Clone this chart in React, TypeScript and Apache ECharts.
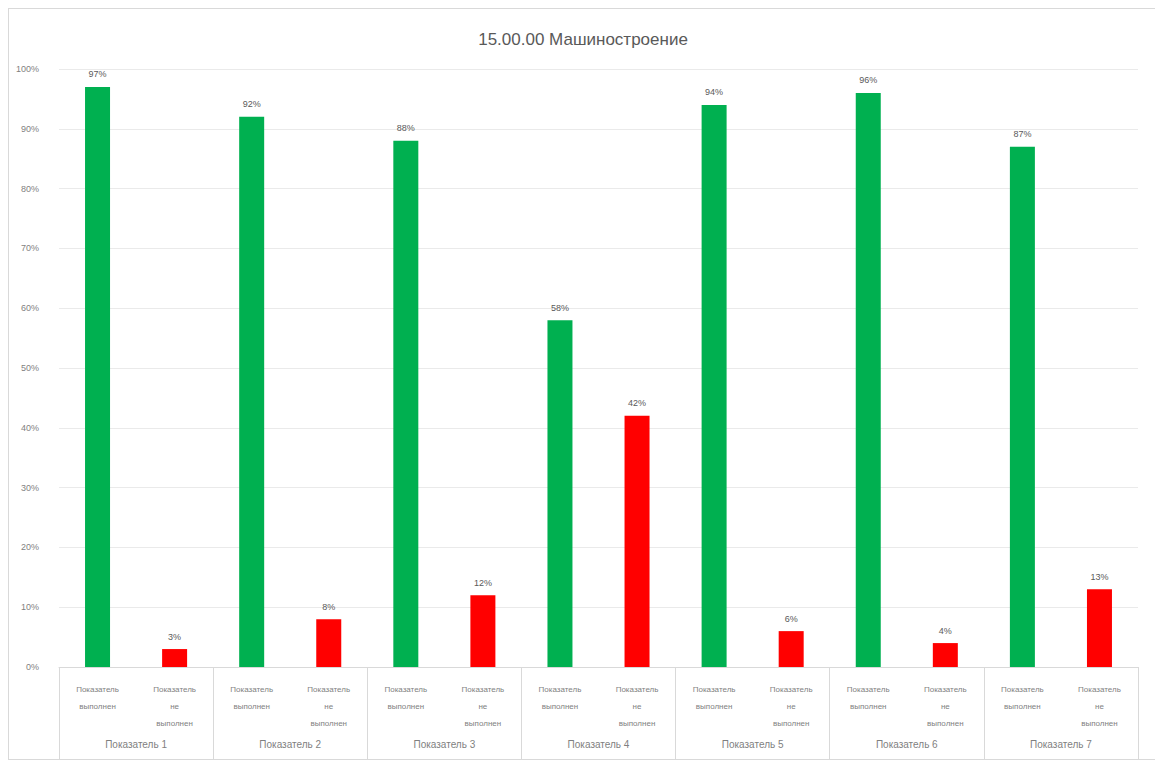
import React, { useEffect, useRef } from "react";
import * as echarts from "echarts";

const title = "15.00.00 Машиностроение";
const groups = ["Показатель 1", "Показатель 2", "Показатель 3", "Показатель 4", "Показатель 5", "Показатель 6", "Показатель 7"];
const subCategories = ["Показатель\nвыполнен", "Показатель\nне\nвыполнен"];
const doneValues = [97, 92, 88, 58, 94, 96, 87];
const notDoneValues = [3, 8, 12, 42, 6, 4, 13];
const colors = ["#00B050", "#FF0000"];

export default function App() {
  const ref = useRef<HTMLDivElement>(null);
  useEffect(() => {
    if (!ref.current) return;
    const chart = echarts.init(ref.current, undefined, { renderer: "svg" });
    const cats: string[] = [];
    const data: any[] = [];
    groups.forEach((_, i) => {
      cats.push(subCategories[0]);
      data.push({ value: doneValues[i], itemStyle: { color: colors[0] } });
      cats.push(subCategories[1]);
      data.push({ value: notDoneValues[i], itemStyle: { color: colors[1] } });
    });
    chart.setOption({
      animation: false,
      backgroundColor: "#ffffff",
      title: {
        text: title,
        left: "center",
        top: 17,
        textStyle: { fontSize: 17, fontWeight: "normal", color: "#595959", fontFamily: "Liberation Sans" },
      },
      grid: { left: 50, right: 19, top: 60, bottom: 92, containLabel: false },
      xAxis: [
        {
          type: "category",
          data: cats,
          axisLine: { show: true, lineStyle: { color: "#D9D9D9" } },
          axisTick: { show: false },
          axisLabel: {
            interval: 0,
            fontSize: 8,
            color: "#7f7f7f",
            lineHeight: 17,
            margin: 14,
            fontFamily: "Liberation Sans",
          },
        },
        {
          type: "category",
          data: groups,
          position: "bottom",
          axisLine: { show: false },
          axisTick: { show: true, length: 92, lineStyle: { color: "#D9D9D9" } },
          axisLabel: { interval: 0, fontSize: 10, color: "#7f7f7f", margin: 72, fontFamily: "Liberation Sans" },
        },
      ],
      yAxis: {
        type: "value",
        min: 0,
        max: 100,
        interval: 10,
        axisLine: { show: false },
        axisTick: { show: false },
        splitLine: { lineStyle: { color: "#EAEAEA" } },
        axisLabel: { formatter: "{value}%", fontSize: 9, color: "#7f7f7f", margin: 20, fontFamily: "Liberation Sans" },
      },
      series: [
        {
          type: "bar",
          xAxisIndex: 0,
          data,
          barWidth: 25,
          label: {
            show: true,
            position: "top",
            formatter: "{c}%",
            fontSize: 9,
            color: "#595959",
            distance: 8,
            fontFamily: "Liberation Sans",
          },
        },
      ],
    });
    return () => chart.dispose();
  }, []);
  return (
    <div
      ref={ref}
      style={{ width: 1150, height: 752, border: "1px solid #D9D9D9", boxSizing: "border-box" }}
    />
  );
}
